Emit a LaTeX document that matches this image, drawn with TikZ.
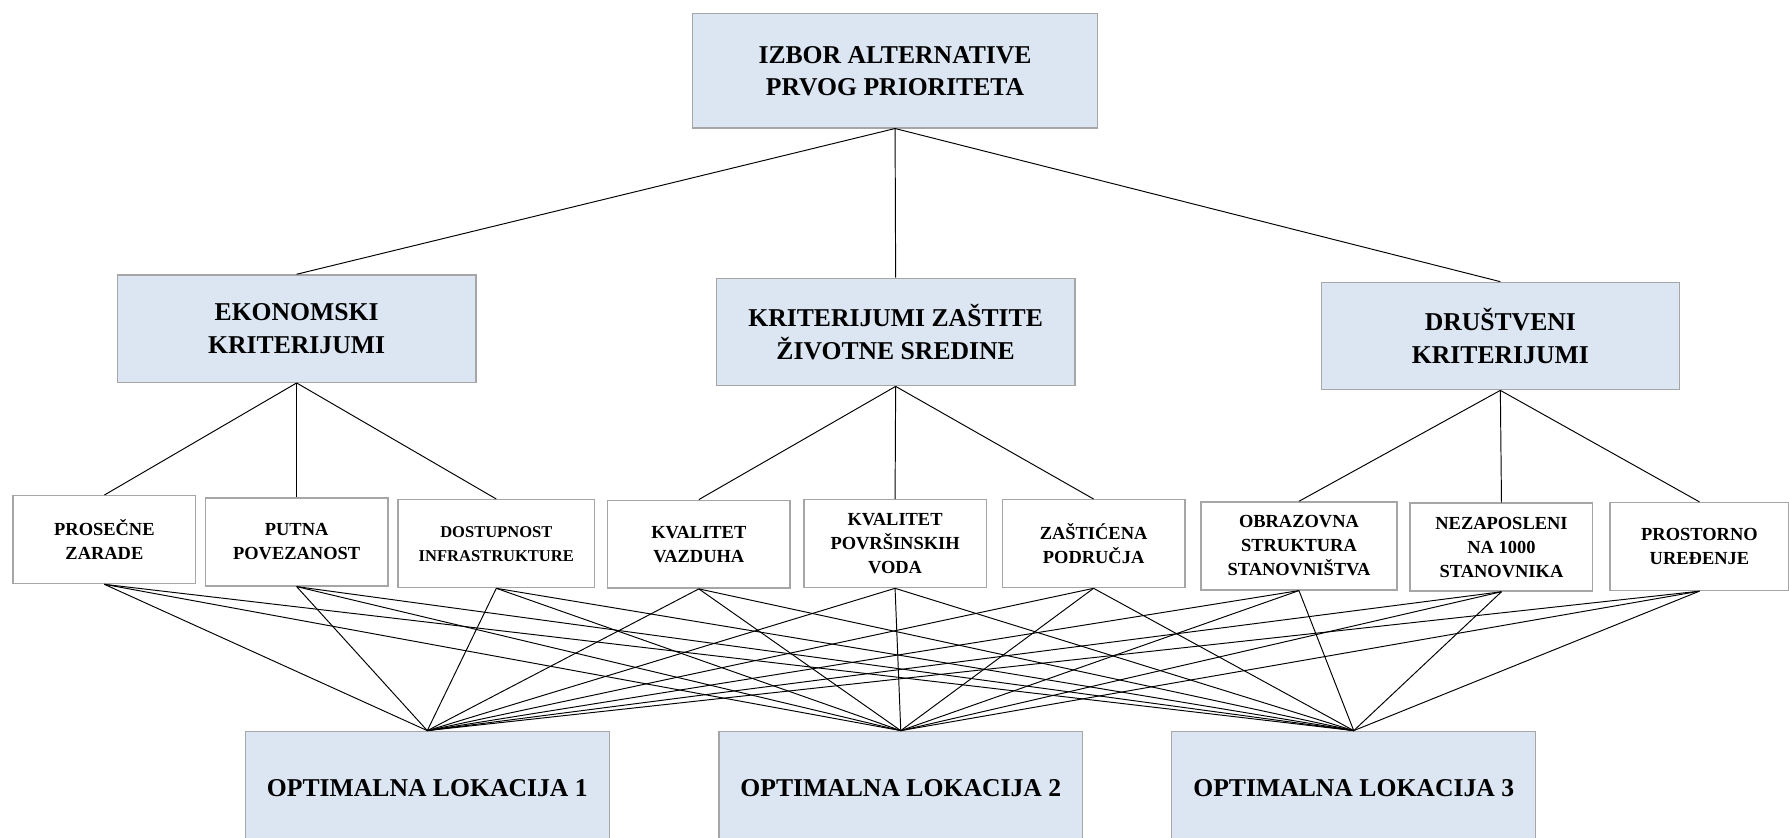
\documentclass[tikz,border=0pt]{standalone}
\usepackage{fontspec}
\setmainfont{Liberation Serif}
\usetikzlibrary{positioning}
\definecolor{boxfill}{RGB}{220,230,242}
\definecolor{boxline}{RGB}{166,166,166}

\begin{document}
\begin{tikzpicture}[x=0.25mm, y=-0.25mm,
  every node/.style={inner sep=1.5pt, align=center},
  bluebox/.style={draw=boxline, line width=0.9pt, fill=boxfill, font=\fontsize{16}{20}\selectfont\bfseries},
  critbox/.style={bluebox, minimum width=78.5mm, minimum height=23.5mm},
  lokbox/.style={bluebox, minimum width=79.75mm, minimum height=25mm},
  subbox/.style={draw=boxline, line width=0.9pt, fill=white, minimum width=40mm, minimum height=19.25mm, font=\fontsize{11.5}{15}\selectfont\bfseries},
  link/.style={black, line width=0.6pt}]
  \clip (0,0) rectangle (1568,734);
  % goal
  \node[bluebox, minimum width=88.75mm, minimum height=25mm] (top) at (784.5,62) {IZBOR ALTERNATIVE\\PRVOG PRIORITETA};
  % criteria
  \node[critbox] (ek) at (260,288) {EKONOMSKI\\KRITERIJUMI};
  \node[critbox] (zs) at (785,291) {KRITERIJUMI ZAŠTITE\\ŽIVOTNE SREDINE};
  \node[critbox] (dr) at (1315,294.5) {DRUŠTVENI\\KRITERIJUMI};
  % sub-criteria
  \node[subbox] (s1) at (91.5,473) {PROSEČNE\\ZARADE};
  \node[subbox] (s2) at (260,475) {PUTNA\\POVEZANOST};
  \node[subbox, minimum width=43mm, font=\fontsize{10.3}{15}\selectfont\bfseries] (s3) at (435,476.5) {DOSTUPNOST\\INFRASTRUKTURE};
  \node[subbox] (s4) at (612.5,477) {KVALITET\\VAZDUHA};
  \node[subbox] (s5) at (784.5,476.5) {KVALITET\\POVRŠINSKIH\\VODA};
  \node[subbox] (s6) at (958.5,476.5) {ZAŠTIĆENA\\PODRUČJA};
  \node[subbox, minimum width=43mm] (s7) at (1138.5,478.5) {OBRAZOVNA\\STRUKTURA\\STANOVNIŠTVA};
  \node[subbox] (s8) at (1316,479.5) {NEZAPOSLENI\\NA 1000\\STANOVNIKA};
  \node[subbox, minimum width=39.25mm] (s9) at (1489.5,479) {PROSTORNO\\UREĐENJE};
  % alternatives
  \node[lokbox] (l1) at (374.5,691) {OPTIMALNA LOKACIJA 1};
  \node[lokbox] (l2) at (789.5,691) {OPTIMALNA LOKACIJA 2};
  \node[lokbox] (l3) at (1186.5,691) {OPTIMALNA LOKACIJA 3};
  % links
  \foreach \c in {ek,zs,dr}
    \draw[link] (top.south) -- (\c.north);
  \foreach \s in {s1,s2,s3}
    \draw[link] (ek.south) -- (\s.north);
  \foreach \s in {s4,s5,s6}
    \draw[link] (zs.south) -- (\s.north);
  \foreach \s in {s7,s8,s9}
    \draw[link] (dr.south) -- (\s.north);
  \foreach \i in {1,...,9}
    \foreach \j in {1,2,3}
      \draw[link] (s\i.south) -- (l\j.north);
\end{tikzpicture}
\end{document}
